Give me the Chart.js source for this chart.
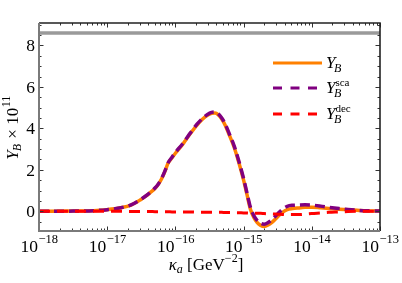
<!DOCTYPE html>
<html>
<head>
<meta charset="utf-8">
<script src="https://cdn.jsdelivr.net/npm/chart.js@4"></script>
<style>
body{margin:0;background:#fff}
canvas{display:block}
</style>
</head>
<body>
<canvas id="myChart" width="402" height="283"></canvas>
<script>
// log10 of kappa_a [GeV^-2]
var logKappa=[-18,-17.5,-17.2,-17.0,-16.8,-16.65,-16.51,-16.43,-16.37,-16.3,
  -16.25,-16.2,-16.15,-16.11,-16.05,-16.0,-15.88,-15.78,-15.68,-15.6,
  -15.53,-15.47,-15.42,-15.37,-15.32,-15.27,-15.2,-15.14,-15.07,-15.0,
  -14.95,-14.9,-14.85,-14.8,-14.75,-14.7,-14.64,-14.58,-14.5,-14.43,
  -14.36,-14.28,-14.2,-14.1,-14.0,-13.87,-13.75,-13.6,-13.47,-13.3,
  -13.15,-13.0]
// Y_B x 10^11
var yB=[0,0.01,0.03,0.08,0.17,0.3,0.56,0.74,0.9,1.1,
  1.3,1.58,1.95,2.3,2.58,2.8,3.29,3.75,4.17,4.45,
  4.63,4.72,4.74,4.65,4.45,4.15,3.6,3.1,2.35,1.5,
  0.8,0.1,-0.3,-0.55,-0.68,-0.73,-0.66,-0.52,-0.26,-0.05,
  0.08,0.13,0.16,0.19,0.2,0.17,0.14,0.1,0.08,0.04,
  0.02,0.01]
var ySca=[0,0.01,0.03,0.08,0.17,0.31,0.57,0.75,0.91,1.12,
  1.32,1.6,1.97,2.32,2.61,2.83,3.32,3.78,4.21,4.49,
  4.67,4.77,4.79,4.7,4.5,4.21,3.66,3.17,2.42,1.58,
  0.88,0.19,-0.21,-0.45,-0.58,-0.62,-0.54,-0.39,-0.12,0.1,
  0.24,0.29,0.3,0.31,0.3,0.25,0.19,0.13,0.09,0.04,
  0.02,0.01]
var yDec=[0,0,0,0,0,-0.01,-0.01,-0.01,-0.01,-0.02,
  -0.02,-0.02,-0.02,-0.02,-0.03,-0.03,-0.03,-0.03,-0.04,-0.04,
  -0.04,-0.05,-0.05,-0.05,-0.05,-0.06,-0.06,-0.07,-0.07,-0.08,
  -0.08,-0.09,-0.09,-0.1,-0.1,-0.11,-0.12,-0.13,-0.14,-0.15,
  -0.16,-0.16,-0.16,-0.14,-0.11,-0.08,-0.05,-0.03,-0.01,0,
  0,0]
// horizontal gray reference line
var refX=[-18,-13]
var refY=[8.6,8.6]
var xTickExp=[-18,-17,-16,-15,-14,-13]
var yTicks=[0,2,4,6,8]

var FONT='"Liberation Serif", "DejaVu Serif", serif'

function pts(xs,ys){
  return xs.map(function(e,i){ return {x:Math.pow(10,e),y:ys[i]} })
}

function put(ctx,s,x,y,size,italic){
  ctx.font=(italic?'italic ':'')+size+'px '+FONT
  ctx.fillText(s,x,y)
  return ctx.measureText(s).width
}
function wid(ctx,s,size,italic){
  ctx.font=(italic?'italic ':'')+size+'px '+FONT
  return ctx.measureText(s).width
}

var frame={
  id:'frame',
  afterDraw:function(chart){
    var ctx=chart.ctx, a=chart.chartArea
    var xs=chart.scales.x, ys=chart.scales.y
    ctx.save()
    // ticks
    ctx.strokeStyle='#333'
    ctx.lineWidth=1
    ctx.beginPath()
    for(var d=-18;d<=-13;d++){
      for(var k=1;k<=9;k++){
        var v=k*Math.pow(10,d)
        if(v>1.0001e-13) break
        var px=Math.round(xs.getPixelForValue(v))+0.5
        var L=(k==1)?4.5:2.5
        ctx.moveTo(px,a.bottom); ctx.lineTo(px,a.bottom-L)
        ctx.moveTo(px,a.top); ctx.lineTo(px,a.top+L)
      }
    }
    for(var t=-0.5;t<=9;t+=0.5){
      var py=Math.round(ys.getPixelForValue(t))+0.5
      var L2=(Math.abs(t%2)<1e-6)?4.5:2.5
      ctx.moveTo(a.left,py); ctx.lineTo(a.left+L2,py)
      ctx.moveTo(a.right,py); ctx.lineTo(a.right-L2,py)
    }
    ctx.stroke()
    // frame
    ctx.lineWidth=1.6
    ctx.strokeStyle='#222'
    ctx.beginPath()
    ctx.moveTo(a.left,a.top); ctx.lineTo(a.right,a.top); ctx.lineTo(a.right,a.bottom)
    ctx.stroke()
    ctx.strokeStyle='#7a7a7a'
    ctx.lineWidth=2
    ctx.beginPath()
    ctx.moveTo(a.left,a.top); ctx.lineTo(a.left,a.bottom); ctx.lineTo(a.right,a.bottom)
    ctx.stroke()

    ctx.fillStyle='#000'
    ctx.textAlign='left'
    ctx.textBaseline='alphabetic'
    // x tick labels
    xTickExp.forEach(function(e){
      var px=xs.getPixelForValue(Math.pow(10,e))
      var ex='\u2212'+Math.abs(e)
      var w=wid(ctx,'10',17.5,false)+wid(ctx,ex,12.5,false)
      var x0=px-w/2
      x0+=put(ctx,'10',x0,252,17.5,false)
      put(ctx,ex,x0+0.5,243,12.5,false)
    })
    // y tick labels
    ctx.textAlign='right'
    yTicks.forEach(function(t){
      var py=ys.getPixelForValue(t)
      put(ctx,String(t),35,py+6,17.5,false)
    })
    ctx.textAlign='left'
    // x title
    var tw=wid(ctx,'\u03ba',17,true)+wid(ctx,'a',12,true)+wid(ctx,' [GeV',17,false)+wid(ctx,'\u22122',12,false)+wid(ctx,']',17,false)
    var x1=206-tw/2
    x1+=put(ctx,'\u03ba',x1,270,17,true)
    x1+=put(ctx,'a',x1,273,12,true)
    x1+=put(ctx,' [GeV',x1,270,17,false)
    x1+=put(ctx,'\u22122',x1,262,12,false)
    put(ctx,']',x1,270,17,false)
    // y title
    ctx.save()
    ctx.translate(18,128)
    ctx.rotate(-Math.PI/2)
    var yw=wid(ctx,'Y',17,true)+wid(ctx,'B',12,true)+wid(ctx,' \u00d7 10',17,false)+wid(ctx,'11',12,false)
    var y1=-yw/2
    y1+=put(ctx,'Y',y1,0,17,true)
    y1+=put(ctx,'B',y1-1,3,12,true)
    y1+=put(ctx,' \u00d7 10',y1,0,17,false)
    put(ctx,'11',y1+0.5,-8,12,false)
    ctx.restore()

    // legend
    var items=[
      {c:'#ff8000',dash:[],y:63,sup:''},
      {c:'#800080',dash:[9,8.5],y:88,sup:'sca'},
      {c:'#ff0000',dash:[9,8.5],y:114,sup:'dec'}
    ]
    items.forEach(function(it){
      ctx.strokeStyle=it.c
      ctx.lineWidth=3
      ctx.setLineDash(it.dash)
      ctx.beginPath()
      ctx.moveTo(273,it.y); ctx.lineTo(322,it.y)
      ctx.stroke()
      ctx.setLineDash([])
      var lx=326
      lx+=put(ctx,'Y',lx,it.y+5,17,true)
      put(ctx,'B',lx-1.5,it.y+9,12,true)
      if(it.sup) put(ctx,it.sup,lx,it.y-2,11,false)
    })
    ctx.restore()
  }
}

var ctx=document.getElementById('myChart').getContext('2d')
var chart=new Chart(ctx,{
  type:'line',
  data:{
    datasets:[
      {data:pts(refX,refY),borderColor:'#9a9a9a',borderWidth:3.5,order:4},
      {data:pts(logKappa,yB),borderColor:'#ff8000',borderWidth:3.5,cubicInterpolationMode:'monotone',order:3},
      {data:pts(logKappa,ySca),borderColor:'#800080',borderWidth:3.5,borderDash:[10,5],cubicInterpolationMode:'monotone',order:2},
      {data:pts(logKappa,yDec),borderColor:'#ff0000',borderWidth:3,borderDash:[11,7],cubicInterpolationMode:'monotone',order:1}
    ]
  },
  options:{
    responsive:false,
    animation:false,
    layout:{padding:{left:39,right:22,top:23,bottom:52}},
    elements:{point:{radius:0}},
    plugins:{legend:{display:false},tooltip:{enabled:false}},
    scales:{
      x:{type:'logarithmic',min:1e-18,max:1e-13,
        ticks:{display:false},grid:{display:false},border:{display:false},
        afterFit:function(s){s.height=0}},
      y:{type:'linear',min:-0.95,max:9.08,
        ticks:{display:false},grid:{display:false},border:{display:false},
        afterFit:function(s){s.width=0}}
    }
  },
  plugins:[frame]
})
</script>
</body>
</html>
